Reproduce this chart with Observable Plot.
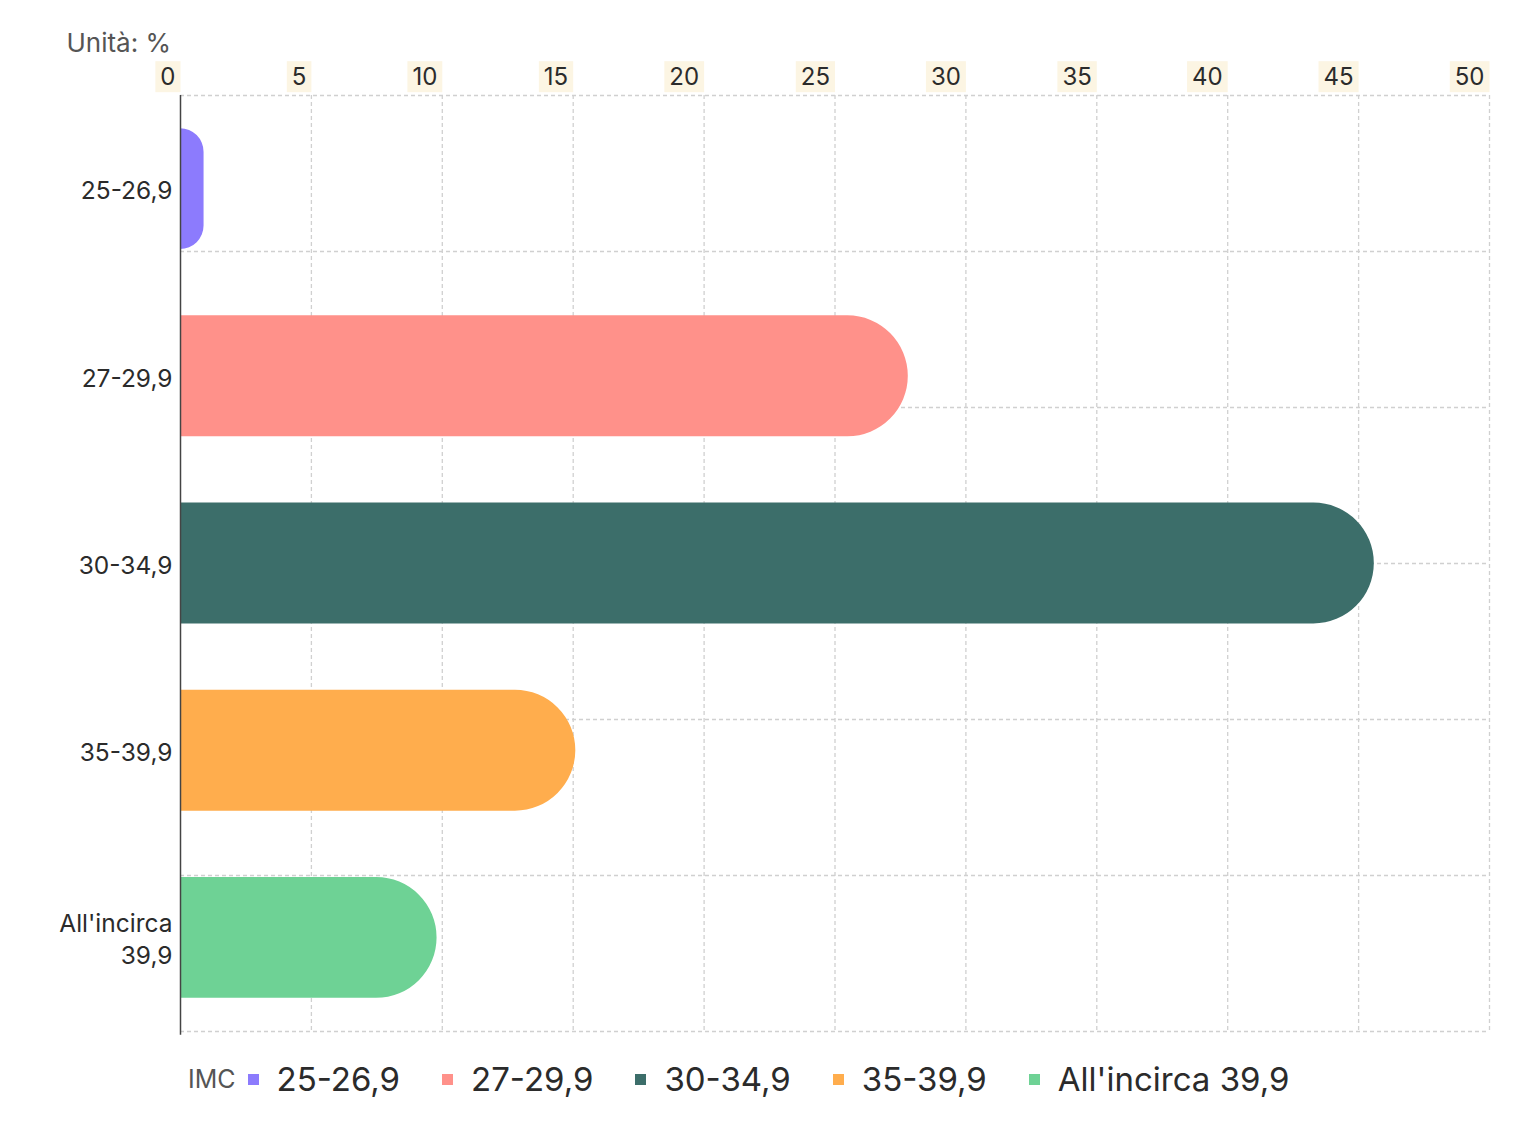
<!DOCTYPE html>
<html>
<head>
<meta charset="utf-8">
<script src="https://cdn.jsdelivr.net/npm/d3@7"></script>
<script src="https://cdn.jsdelivr.net/npm/@observablehq/plot@0.6"></script>
<style>
  html, body { margin: 0; padding: 0; background: #fff; }
  body { width: 1536px; height: 1141px; position: relative; font-family: Inter, "Noto Sans", sans-serif; }
  #unit { position: absolute; top: 27px; left: 0; width: 171px; text-align: right; font-size: 26px; line-height: 32px; color: #555; z-index: 2; }
  #chart { position: absolute; top: 0; left: 0; z-index: 1; }
  #legend { position: absolute; top: 1059px; left: 188px; display: flex; align-items: center; white-space: nowrap; z-index: 2; }
  #legend .title { font-size: 25px; color: #555; margin-right: 12px; }
  #legend .item { display: flex; align-items: center; margin-right: 42px; }
  #legend .sw { width: 11px; height: 11px; margin-right: 18px; }
  #legend .lb { font-size: 33px; color: #2b2b2b; }
</style>
</head>
<body>
<div id="unit">Unità: %</div>
<div id="chart"></div>
<div id="legend"></div>
<script>
const categories = ["25-26,9", "27-29,9", "30-34,9", "35-39,9", "All'incirca 39,9"];
const axisLabels = ["25-26,9", "27-29,9", "30-34,9", "35-39,9", "All'incirca\n39,9"];
const values = [0.9, 27.8, 45.6, 15.1, 9.8];
const colors = ["#8c7bfd", "#ff918a", "#3c6e6a", "#ffad4d", "#6ed295"];
const xTicks = [0, 5, 10, 15, 20, 25, 30, 35, 40, 45, 50];
const legendTitle = "IMC";

const data = categories.map((c, i) => ({cat: c, i, value: values[i]}));
const half = 0.323;
const yDomain = [-0.5, categories.length - 0.5];
const hGrid = d3.range(7).map(k => yDomain[0] + k * (yDomain[1] - yDomain[0]) / 6);

const plot = Plot.plot({
  width: 1536,
  height: 1050,
  marginTop: 95,
  marginLeft: 180,
  marginRight: 47,
  marginBottom: 19,
  style: {fontFamily: "Inter, 'Noto Sans', sans-serif", background: "transparent", overflow: "visible"},
  x: {domain: [0, 50], axis: null, label: null},
  y: {domain: yDomain, reverse: true, axis: null, label: null},
  marks: [
    Plot.ruleX(xTicks.slice(1), {stroke: "#d0d0d0", strokeWidth: 1.3, strokeDasharray: "4,3"}),
    Plot.ruleY(hGrid, {stroke: "#d0d0d0", strokeWidth: 1.3, strokeDasharray: "4,3"}),
    Plot.rect(data, {
      x1: 0, x2: "value",
      y1: d => d.i - half, y2: d => d.i + half,
      fill: d => colors[d.i]
    }),
    Plot.ruleX([0], {stroke: "#444", strokeWidth: 1.5, y1: yDomain[0], y2: yDomain[1] + 0.02}),
    // top tick labels (right-aligned at each tick)
    Plot.text(xTicks, {
      x: d => d, text: d => String(d), frameAnchor: "top",
      textAnchor: "end", lineAnchor: "middle", dx: -5, dy: -18,
      fontSize: 24, fill: "#2b2b2b"
    }),
    // category labels
    Plot.text(data, {
      x: 0, y: "i", text: d => axisLabels[d.i],
      textAnchor: "end", dx: -8, fontSize: 24.5, fill: "#2b2b2b", lineHeight: 1.3
    })
  ]
});
document.getElementById("chart").appendChild(plot);

const colorSet = new Set(colors);

// rounded right ends for bars
d3.select(plot).selectAll("rect").filter(function() { return colorSet.has(this.getAttribute("fill")); }).each(function() {
  const r = d3.select(this);
  const x = +r.attr("x"), y = +r.attr("y"), w = +r.attr("width"), h = +r.attr("height");
  const rad = Math.min(h / 2, w);
  const p = `M${x},${y}H${x + w - rad}A${rad},${rad} 0 0 1 ${x + w},${y + rad}V${y + h - rad}A${rad},${rad} 0 0 1 ${x + w - rad},${y + h}H${x}Z`;
  const path = document.createElementNS("http://www.w3.org/2000/svg", "path");
  path.setAttribute("d", p);
  path.setAttribute("fill", r.attr("fill"));
  if (this.getAttribute("transform")) path.setAttribute("transform", this.getAttribute("transform"));
  this.parentNode.insertBefore(path, this);
  this.remove();
});

// cream background boxes behind the x tick labels
const tickSet = new Set(xTicks.map(String));
d3.select(plot).selectAll("text").filter(function() {
  return tickSet.has(this.textContent);
}).each(function() {
  const b = this.getBBox();
  const cy = b.y + b.height / 2;
  const rect = document.createElementNS("http://www.w3.org/2000/svg", "rect");
  rect.setAttribute("x", b.x - 5);
  rect.setAttribute("y", cy - 15.5);
  rect.setAttribute("width", b.width + 10);
  rect.setAttribute("height", 31);
  rect.setAttribute("fill", "#fcf5e3");
  const t = this.getAttribute("transform");
  if (t) rect.setAttribute("transform", t);
  this.parentNode.insertBefore(rect, this);
});

// legend
const lg = d3.select("#legend");
lg.append("span").attr("class", "title").text(legendTitle);
categories.forEach((c, i) => {
  const it = lg.append("div").attr("class", "item");
  it.append("div").attr("class", "sw").style("background", colors[i]);
  it.append("span").attr("class", "lb").text(c);
});
</script>
</body>
</html>
